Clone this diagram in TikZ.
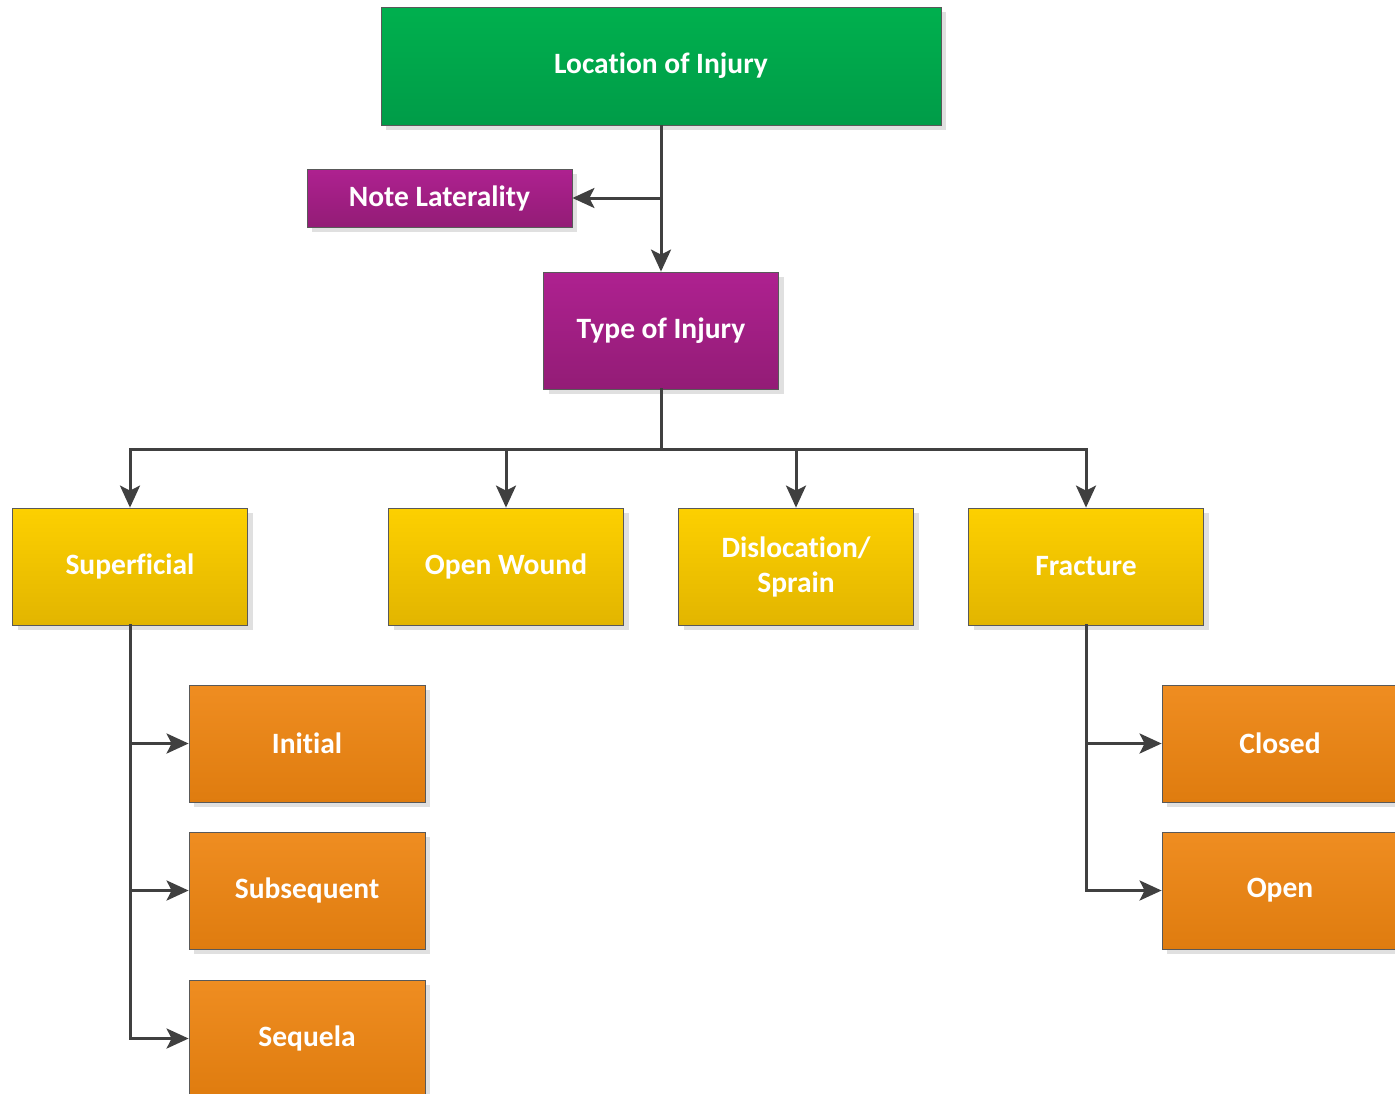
\documentclass[tikz,border=0pt]{standalone}
\usepackage{fontspec}
\setmainfont[Ligatures=NoCommon]{Carlito}
\usetikzlibrary{arrows.meta,shadows}
\definecolor{lineclr}{HTML}{404040}
\definecolor{gtop}{HTML}{00B04E}
\definecolor{gbot}{HTML}{009C48}
\definecolor{ptop}{HTML}{AE2190}
\definecolor{pbot}{HTML}{931C76}
\definecolor{ytop}{HTML}{FDD000}
\definecolor{ybot}{HTML}{E2B500}
\definecolor{otop}{HTML}{EF8D21}
\definecolor{obot}{HTML}{DF7C0F}
\tikzset{
  box/.style={draw=black!65, line width=0.8pt, rectangle, inner sep=0pt,
    text=white, align=center,
    font=\fontsize{29.5}{35}\selectfont\bfseries,
    general shadow={fill=black!12, shadow xshift=5pt, shadow yshift=-5pt}},
  greenbox/.style={box, top color=gtop, bottom color=gbot},
  purplebox/.style={box, top color=ptop, bottom color=pbot},
  yellowbox/.style={box, top color=ytop, bottom color=ybot},
  orangebox/.style={box, top color=otop, bottom color=obot},
  wire/.style={draw=lineclr, line width=3pt, line cap=rect, line join=miter},
  link/.style={draw=lineclr, line width=3pt,
    -{Stealth[length=22pt, width=20pt, inset=5pt]}}
}
\begin{document}
\begin{tikzpicture}[x=1pt, y=-1pt]
\useasboundingbox (0,0) rectangle (1395,1093);
\clip (0,0) rectangle (1395,1093);

% top level
\node[greenbox, minimum width=560pt, minimum height=118pt] (loc) at (661,66) {Location of Injury};
\node[purplebox, minimum width=265pt, minimum height=58pt] (lat) at (439.5,198) {Note Laterality};
\node[purplebox, minimum width=235pt, minimum height=117pt] (type) at (661,330.5) {Type of Injury};

% injury types
\node[yellowbox, minimum width=235pt, minimum height=117pt] (sup) at (130,566.5) {Superficial};
\node[yellowbox, minimum width=235pt, minimum height=117pt] (ow) at (506,566.5) {Open Wound};
\node[yellowbox, minimum width=235pt, minimum height=117pt] (dis) at (796,566.5) {Dislocation/\\Sprain};
\node[yellowbox, minimum width=235pt, minimum height=117pt] (fra) at (1086,566.5) {Fracture};

% encounters
\node[orangebox, minimum width=236pt, minimum height=117pt] (ini) at (307,743.5) {Initial};
\node[orangebox, minimum width=236pt, minimum height=117pt] (subs) at (307,890.5) {Subsequent};
\node[orangebox, minimum width=236pt, minimum height=117pt] (seq) at (307,1038.5) {Sequela};

% fracture kinds
\node[orangebox, minimum width=236pt, minimum height=117pt] (clo) at (1280,743.5) {Closed};
\node[orangebox, minimum width=236pt, minimum height=117pt] (opn) at (1280,890.5) {Open};

% connectors from the top
\coordinate (j1) at (loc.south |- lat.east);
\draw[link] (loc.south) -- (type.north);
\draw[link] (j1) -- (lat.east);

% bus below "Type of Injury"
\coordinate (bus) at (661,449);
\coordinate (busl) at (sup.north |- bus);
\coordinate (busr) at (fra.north |- bus);
\draw[wire] (type.south) -- (bus);
\draw[wire] (busl) -- (busr);
\draw[link] (busl) -- (sup.north);
\draw[link] (ow.north |- bus) -- (ow.north);
\draw[link] (dis.north |- bus) -- (dis.north);
\draw[link] (busr) -- (fra.north);

% encounter branches
\coordinate (s1) at (sup.south |- ini.west);
\coordinate (s2) at (sup.south |- subs.west);
\coordinate (s3) at (sup.south |- seq.west);
\draw[wire] (sup.south) -- (s3);
\draw[link] (s1) -- (ini.west);
\draw[link] (s2) -- (subs.west);
\draw[link] (s3) -- (seq.west);

% fracture branches
\coordinate (f1) at (fra.south |- clo.west);
\coordinate (f2) at (fra.south |- opn.west);
\draw[wire] (fra.south) -- (f2);
\draw[link] (f1) -- (clo.west);
\draw[link] (f2) -- (opn.west);
\end{tikzpicture}
\end{document}
